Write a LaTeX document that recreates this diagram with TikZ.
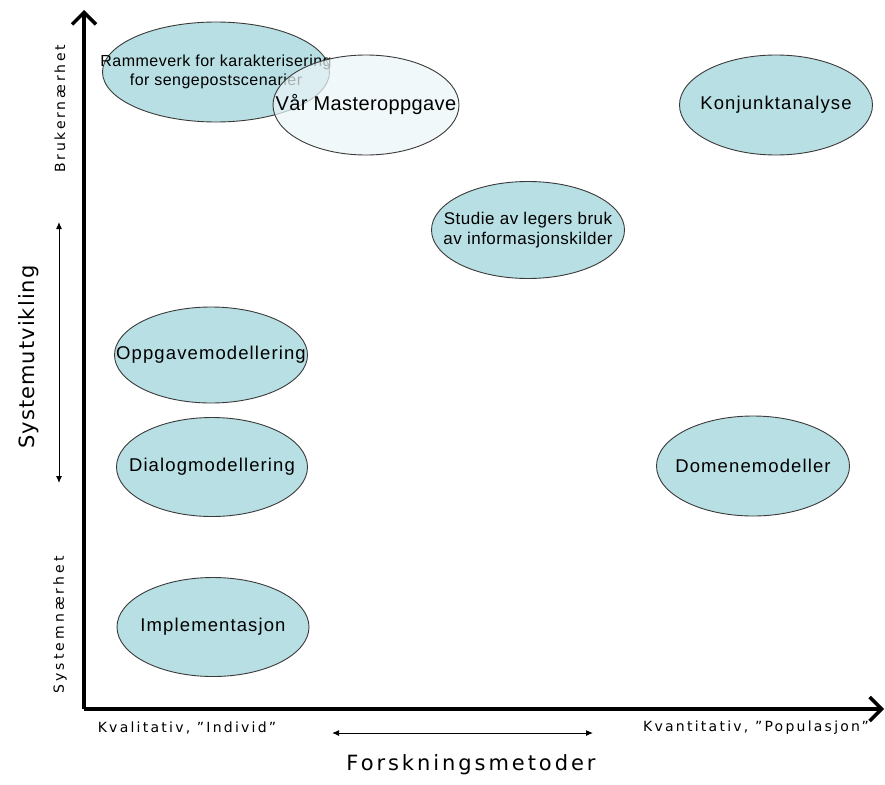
\documentclass[tikz,border=0pt]{standalone}
\usepackage{fontspec}
\setmainfont{Liberation Sans}
\newfontfamily\labelfont{DejaVu Sans}
\usetikzlibrary{arrows.meta,shapes.geometric}
\definecolor{bubble}{HTML}{B8DFE3}
\definecolor{bubblepale}{HTML}{EAF5F7}
\definecolor{bubbleline}{HTML}{3A3A3A}
\begin{document}
\begin{tikzpicture}[x=1pt,y=-1pt,
  bubble/.style={ellipse,draw=bubbleline,line width=0.9pt,fill=bubble,inner sep=0pt},
  bubbletext/.style={align=center,inner sep=0pt,text=black,
    font=\fontsize{18.5}{21}\selectfont\addfontfeature{LetterSpace=6}},
  axisline/.style={line width=4pt,-{Straight Barb[length=12pt,width=24pt,line width=3.5pt]}},
  spanarrow/.style={line width=1pt,{Latex[length=7pt,width=6pt]}-{Latex[length=7pt,width=6pt]}},
  smalllabel/.style={font=\labelfont\fontsize{14}{16}\selectfont\addfontfeature{LetterSpace=16}}]
\useasboundingbox (0,0) rectangle (885,784);

% axes
\coordinate (origin) at (84,709);
\coordinate (ytip) at (84,10);
\coordinate (xtip) at (884,709);
\draw[axisline] (origin) -- (ytip);
\draw[axisline] (origin) -- (xtip);

% vertical axis labels
\node[rotate=90,font=\labelfont\fontsize{14}{16}\selectfont\addfontfeature{LetterSpace=20}] (bruker) at (60,109) {Brukernærhet};
\node[rotate=90,font=\labelfont\fontsize{14}{16}\selectfont\addfontfeature{LetterSpace=22}] (system) at (60,625) {Systemnærhet};
\node[rotate=90,font=\labelfont\fontsize{21}{24}\selectfont\addfontfeature{LetterSpace=5}] (sysutv) at (29,357) {Systemutvikling};
\coordinate (vtop) at (59,222);
\coordinate (vbot) at (59,483);
\draw[spanarrow] (vtop) -- (vbot);

% horizontal axis labels
\node[smalllabel] (kval) at (187,728) {Kvalitativ, ”Individ”};
\node[smalllabel] (kvant) at (756,728) {Kvantitativ, ”Populasjon”};
\coordinate (hleft) at (332,733);
\coordinate (hright) at (593,733);
\draw[spanarrow] (hleft) -- (hright);
\node[font=\labelfont\fontsize{21}{24}\selectfont\addfontfeature{LetterSpace=14}] (forsk) at (471,765) {Forskningsmetoder};

% research bubbles
\node[bubble,minimum width=227pt,minimum height=100pt,
  label={[bubbletext,font=\fontsize{16}{19}\selectfont\addfontfeature{LetterSpace=3}]center:Rammeverk for karakterisering\\for sengepostscenarier}] (ramme) at (216,72) {};
% translucent bubble on top of the framework bubble
\node[bubble,minimum width=186pt,minimum height=100pt,fill=bubblepale,fill opacity=0.72,
  label={[bubbletext,font=\fontsize{20}{22}\selectfont\addfontfeature{LetterSpace=2}]center:Vår Masteroppgave}] (master) at (366,105) {};
\node[bubble,minimum width=193pt,minimum height=100pt,
  label={[bubbletext]center:Konjunktanalyse}] (konj) at (776,105) {};
\node[bubble,minimum width=193pt,minimum height=97pt,
  label={[bubbletext,font=\fontsize{17}{20}\selectfont\addfontfeature{LetterSpace=3}]center:Studie av legers bruk\\av informasjonskilder}] (studie) at (528,230) {};
\node[bubble,minimum width=193pt,minimum height=96pt,
  label={[bubbletext]center:Oppgavemodellering}] (oppg) at (211,355) {};
\node[bubble,minimum width=191pt,minimum height=99pt,
  label={[bubbletext]center:Dialogmodellering}] (dialog) at (212,467) {};
\node[bubble,minimum width=193pt,minimum height=100pt,
  label={[bubbletext]center:Domenemodeller}] (domene) at (753,466) {};
\node[bubble,minimum width=192pt,minimum height=99pt,
  label={[bubbletext]center:Implementasjon}] (impl) at (213,627) {};
\end{tikzpicture}
\end{document}
